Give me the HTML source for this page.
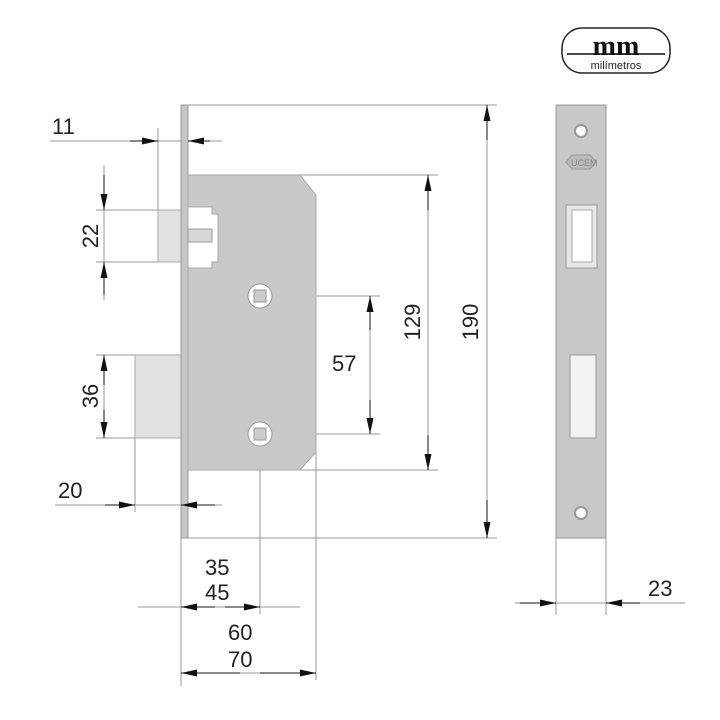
<!DOCTYPE html>
<html><head><meta charset="utf-8"><style>body{margin:0;background:#fff}svg{display:block}text{font-family:"Liberation Sans",sans-serif;font-size:22px;fill:#222}</style></head><body>
<svg width="720" height="720" viewBox="0 0 720 720">
<defs>
<marker id="a" markerWidth="16" markerHeight="8" refX="16" refY="4" orient="auto" markerUnits="userSpaceOnUse"><path d="M0,0.5 L16,4 L0,7.5Z" fill="#111"/></marker>
</defs>
<g stroke="#999" stroke-width="1" fill="none">
<line x1="188" y1="105" x2="497" y2="105"/><line x1="188" y1="538" x2="497" y2="538"/>
<line x1="300" y1="175" x2="438" y2="175"/><line x1="300" y1="470" x2="438" y2="470"/>
<line x1="272" y1="296" x2="380" y2="296"/><line x1="272" y1="434" x2="380" y2="434"/>
<line x1="158" y1="128" x2="158" y2="210"/>
<line x1="96" y1="210" x2="158" y2="210"/><line x1="96" y1="262" x2="158" y2="262"/>
<line x1="96" y1="355" x2="135" y2="355"/><line x1="96" y1="438" x2="135" y2="438"/>
<line x1="135" y1="438" x2="135" y2="512"/>
<line x1="181" y1="538" x2="181" y2="686"/>
<line x1="260" y1="446" x2="260" y2="614"/>
<line x1="316" y1="452" x2="316" y2="680"/>
<line x1="556" y1="538" x2="556" y2="615"/><line x1="606" y1="538" x2="606" y2="615"/>
<line x1="487" y1="105" x2="487" y2="538"/>
<line x1="428" y1="175" x2="428" y2="470"/>
<line x1="370" y1="296" x2="370" y2="434"/>
<line x1="104" y1="165" x2="104" y2="300"/>
<line x1="104" y1="355" x2="104" y2="438"/>
<line x1="50" y1="141" x2="222" y2="141"/>
<line x1="55" y1="505" x2="222" y2="505"/>
<line x1="138" y1="607" x2="300" y2="607"/>
<line x1="181" y1="673" x2="316" y2="673"/>
<line x1="515" y1="603" x2="685" y2="603"/>
</g>
<g stroke="none">
<rect x="135" y="355" width="46" height="83" fill="#e2e2e2" stroke="#aaa"/>
<rect x="158" y="210" width="30" height="52" fill="#e2e2e2" stroke="#aaa"/>
<rect x="181" y="105" width="7" height="433" fill="#c6c6c6" stroke="#999"/>
<path d="M188,175 L300,175 L316,195 L316,452 L300,470 L188,470Z" fill="#c8c8c8" stroke="#aaa"/>
<path d="M188,207 L212,207 L212,214 L218,214 L218,262 L212,262 L212,268 L188,268Z" fill="#fff" stroke="#aaa"/>
<rect x="188" y="229" width="24" height="13" fill="#d8d8d8" stroke="#999"/>
<circle cx="260" cy="296" r="12" fill="#fff" stroke="#999"/><rect x="254" y="290" width="12" height="12" fill="#ccc" stroke="#999"/>
<circle cx="260" cy="434" r="12" fill="#fff" stroke="#999"/><rect x="254" y="428" width="12" height="12" fill="#ccc" stroke="#999"/>
<rect x="556" y="105" width="50" height="433" fill="#c8c8c8" stroke="#999"/>
<circle cx="581" cy="131" r="6" fill="#fff" stroke="#999" stroke-width="2"/>
<circle cx="581" cy="513" r="6" fill="#fff" stroke="#999" stroke-width="2"/>
<path d="M566,162 L572,155 L590,155 L596,162 L590,169 L572,169Z" fill="#bbb" stroke="#999"/>
<text x="571" y="166" style="font-size:9px;fill:#888">UCEM</text>
<rect x="566" y="205" width="31" height="63" fill="#e6e6e6" stroke="#999"/>
<rect x="572" y="210" width="20" height="52" fill="#fff" stroke="#aaa"/>
<rect x="570" y="355" width="26" height="83" fill="#f2f2f2" stroke="#999"/>
</g>
<g stroke="#111" stroke-width="1">
<line x1="487" y1="140" x2="487" y2="105" marker-end="url(#a)"/><line x1="487" y1="500" x2="487" y2="538" marker-end="url(#a)"/>
<line x1="428" y1="210" x2="428" y2="175" marker-end="url(#a)"/><line x1="428" y1="435" x2="428" y2="470" marker-end="url(#a)"/>
<line x1="370" y1="330" x2="370" y2="296" marker-end="url(#a)"/><line x1="370" y1="400" x2="370" y2="434" marker-end="url(#a)"/>
<line x1="104" y1="175" x2="104" y2="210" marker-end="url(#a)"/><line x1="104" y1="295" x2="104" y2="262" marker-end="url(#a)"/>
<line x1="104" y1="385" x2="104" y2="355" marker-end="url(#a)"/><line x1="104" y1="410" x2="104" y2="438" marker-end="url(#a)"/>
<line x1="130" y1="141" x2="158" y2="141" marker-end="url(#a)"/><line x1="210" y1="141" x2="188" y2="141" marker-end="url(#a)"/>
<line x1="105" y1="505" x2="135" y2="505" marker-end="url(#a)"/><line x1="215" y1="505" x2="181" y2="505" marker-end="url(#a)"/>
<line x1="215" y1="607" x2="181" y2="607" marker-end="url(#a)"/><line x1="225" y1="607" x2="260" y2="607" marker-end="url(#a)"/>
<line x1="240" y1="673" x2="181" y2="673" marker-end="url(#a)"/><line x1="260" y1="673" x2="316" y2="673" marker-end="url(#a)"/>
<line x1="520" y1="603" x2="556" y2="603" marker-end="url(#a)"/><line x1="640" y1="603" x2="606" y2="603" marker-end="url(#a)"/>
</g>
<text x="52" y="134">11</text>
<text x="58" y="498">20</text>
<text x="98" y="236" transform="rotate(-90 98 236)" text-anchor="middle">22</text>
<text x="98" y="396" transform="rotate(-90 98 396)" text-anchor="middle">36</text>
<text x="478" y="322" transform="rotate(-90 478 322)" text-anchor="middle">190</text>
<text x="420" y="322" transform="rotate(-90 420 322)" text-anchor="middle">129</text>
<text x="332" y="371">57</text>
<text x="205" y="575">35</text>
<text x="205" y="600">45</text>
<text x="228" y="640">60</text>
<text x="228" y="667">70</text>
<text x="648" y="596">23</text>
<rect x="562" y="28" width="108" height="45" rx="20" fill="#fff" stroke="#222" stroke-width="1.5"/>
<text x="616" y="55" text-anchor="middle" style="font-family:'Liberation Serif',serif;font-weight:bold;font-size:28px;fill:#111">mm</text>
<line x1="567" y1="54" x2="665" y2="54" stroke="#111" stroke-width="1.5"/>
<text x="616" y="69" text-anchor="middle" style="font-size:11px;fill:#222">milímetros</text>
</svg>
</body></html>
